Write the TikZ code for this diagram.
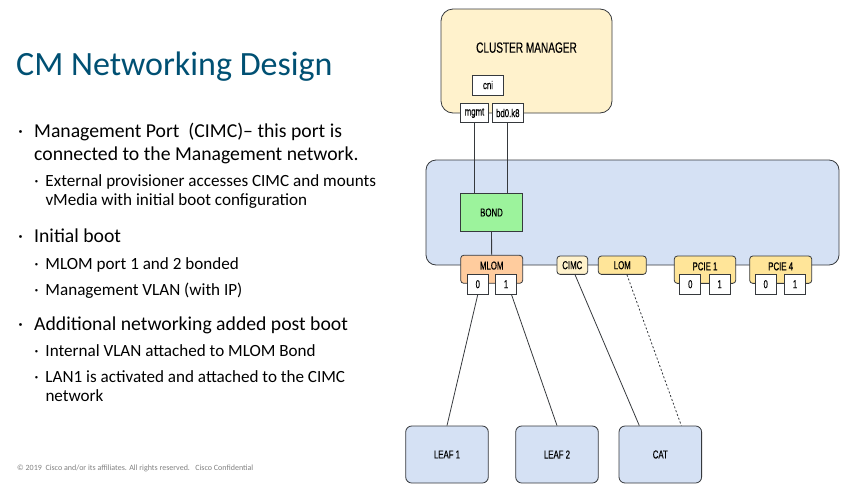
\documentclass[tikz,border=0pt]{standalone}
\usepackage{fontspec}
\setmainfont{Carlito}
\newfontfamily\diagfont[FakeStretch=0.68, FakeBold=0.3]{Liberation Sans}
\usetikzlibrary{positioning, calc}

\definecolor{titleblue}{HTML}{005073}
\definecolor{edge}{HTML}{36393D}
\definecolor{cmyellow}{HTML}{FFF2CC}
\definecolor{hostblue}{HTML}{D5E1F4}
\definecolor{bondgreen}{HTML}{9CF39C}
\definecolor{mlomorange}{HTML}{FFCC9E}
\definecolor{cardyellow}{HTML}{FFE599}

\newcommand{\bul}[1]{\llap{·\hspace{#1}}}

\begin{document}
\begin{tikzpicture}[
    x=1pt, y=-1pt,
    every node/.style={font=\diagfont\fontsize{11.5}{13}\selectfont, text=black},
    box/.style={rectangle, draw=edge, line width=0.8pt, rounded corners=3pt, inner sep=0pt},
    port/.style={box, rounded corners=0pt, fill=white, minimum width=21pt, minimum height=19.7pt},
    card/.style={box, fill=cardyellow, minimum height=27.3pt},
    leaf/.style={box, rounded corners=6pt, fill=hostblue, minimum width=82.6pt, minimum height=57pt},
    cardname/.style={anchor=center, yshift=-10.7pt, inner sep=0pt},
    bullet/.style={anchor=base west, align=left, inner sep=0pt, font=\fontsize{19.7}{22.3}\selectfont},
    subbullet/.style={anchor=base west, align=left, inner sep=0pt, font=\fontsize{17.1}{18.8}\selectfont},
    link/.style={draw=edge, line width=0.8pt}
]
\useasboundingbox (0,0) rectangle (849,496);

% SLIDE TEXT (multi-line items sit on their last baseline)
\node[anchor=base west, inner sep=0pt, font=\fontsize{34}{40}\selectfont, text=titleblue] (title) at (16,75) {CM Networking Design};
\node[bullet] (mgmtport) at (34,160) {\bul{11pt}Management Port\ \ (CIMC)– this port is\\connected to the Management network.};
\node[subbullet] (provisioner) at (45.3,205.7) {\bul{6.8pt}External provisioner accesses CIMC and mounts\\vMedia with initial boot configuration};
\node[bullet] (initboot) at (34,242.7) {\bul{11pt}Initial boot};
\node[subbullet] (bonded) at (45.3,269) {\bul{6.8pt}MLOM port 1 and 2 bonded};
\node[subbullet] (mgmtvlan) at (45.3,295) {\bul{6.8pt}Management VLAN (with IP)};
\node[bullet] (postboot) at (34,330) {\bul{11pt}Additional networking added post boot};
\node[subbullet] (intvlan) at (45.3,356.7) {\bul{6.8pt}Internal VLAN attached to MLOM Bond};
\node[subbullet] (lan1) at (45.3,401.7) {\bul{6.8pt}LAN1 is activated and attached to the CIMC\\network};
\node[anchor=base west, inner sep=0pt, font=\fontsize{8}{9}\selectfont, text=gray] (footer) at (17,470) {© 2019\ \ Cisco and/or its affiliates. All rights reserved.\ \ \ Cisco Confidential};

% CLUSTER MANAGER
\node[box, rounded corners=12pt, fill=cmyellow, minimum width=171pt, minimum height=104pt] (cm) at (526.5,61) {};
\node[font=\diagfont\fontsize{14.8}{16}\selectfont] (cmname) at ($(cm.north)+(0,39)$) {CLUSTER MANAGER};
\node[box, rounded corners=0pt, fill=white, minimum width=31.5pt, minimum height=20pt] (cni) at (488,85) {cni};
\node[port, minimum width=27.6pt] (mgmt) at (474.5,113) {mgmt};
\node[port, minimum width=31.4pt, right=3pt of mgmt] (bd0) {bd0.k8};

% HOST
\node[box, rounded corners=10pt, fill=hostblue, minimum width=413pt, minimum height=105pt] (host) at (632.5,212.5) {};
\node[box, rounded corners=0pt, fill=bondgreen, minimum width=62.4pt, minimum height=38.4pt] (bond) at (491.5,212.5) {BOND};
\node[card, fill=mlomorange, minimum width=62pt, minimum height=28pt, label={[cardname]north:MLOM}] (mlom) at (491.7,269.3) {};
\node[port] (mlom0) at (477.8,284.2) {0};
\node[port, right=6.4pt of mlom0] (mlom1) {1};
\node[box, fill=cmyellow, minimum width=30.7pt, minimum height=18.3pt] (cimc) at (572.3,265.2) {CIMC};
\node[box, fill=cardyellow, minimum width=48pt, minimum height=18.3pt] (lom) at (622.3,265.2) {LOM};
\node[card, minimum width=61.4pt, label={[cardname]north:PCIE 1}] (pcie1) at (705,269.7) {};
\node[port] (pcie1a) at (690.3,284.2) {0};
\node[port, right=7.5pt of pcie1a] (pcie1b) {1};
\node[card, minimum width=62pt, label={[cardname]north:PCIE 4}] (pcie4) at (780.7,269.7) {};
\node[port] (pcie4a) at (765.7,284.2) {0};
\node[port, right=7.5pt of pcie4a] (pcie4b) {1};

% SWITCHES
\node[leaf] (leaf1) at (447,454.5) {LEAF 1};
\node[leaf] (leaf2) at (557,454.5) {LEAF 2};
\node[leaf] (cat) at (660.3,454.5) {CAT};

% LINKS
\draw[link] (mgmt) -- (mgmt |- bond.north);
\draw[link] (bd0) -- (bd0 |- bond.north);
\draw[link] (bond) -- (mlom);
\draw[link] (mlom0.south) -- (leaf1.north);
\draw[link] (mlom1.-62) -- (leaf2.north);
\draw[link] (cimc.-74) -- (cat.126);
\draw[link, dash pattern=on 2pt off 2pt] (lom.-64) -- (cat.54);

\end{tikzpicture}
\end{document}
